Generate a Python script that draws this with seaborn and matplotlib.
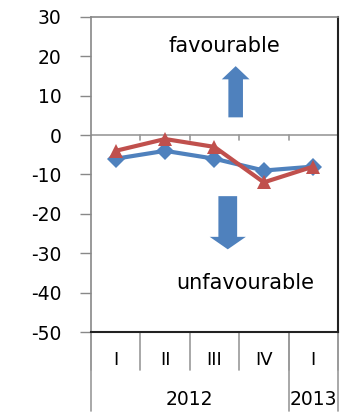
import matplotlib
matplotlib.use("Agg")
import matplotlib.pyplot as plt
import seaborn as sns
import pandas as pd
import numpy as np

quarters = ["I", "II", "III", "IV", "I"]
years = ["2012", "2013"]
year_spans = [(0, 4), (4, 5)]
series_a = [-6, -4, -6, -9, -8]
series_b = [-4, -1, -3, -12, -8]

BLUE = "#4F81BD"
RED = "#C0504D"

sns.set_style("white")
plt.rcParams["font.family"] = ["DejaVu Sans"]
plt.rcParams["text.color"] = "black"
plt.rcParams["ytick.labelcolor"] = "black"

pos = np.arange(len(quarters))
df = pd.DataFrame({
    "pos": np.concatenate([pos, pos]),
    "value": series_a + series_b,
    "series": ["a"] * len(pos) + ["b"] * len(pos),
})

fig = plt.figure(figsize=(3.42, 4.12), dpi=100)
ax = fig.add_axes([0.266, 0.194, 0.722, 0.765])

sns.lineplot(data=df, x="pos", y="value", hue="series", style="series",
             palette={"a": BLUE, "b": RED},
             markers={"a": "D", "b": "^"}, dashes=False,
             markersize=9.5, linewidth=3.0, markeredgewidth=0,
             legend=False, ax=ax)

ax.set_xlim(-0.5, len(quarters) - 0.5)
ax.set_ylim(-50, 30)
ax.set_yticks(range(-50, 31, 10))
ax.set_yticklabels([str(v) for v in range(-50, 31, 10)], fontsize=13.5, color="black")
ax.tick_params(axis="y", length=8, width=1, color="#888888", pad=13, direction="out", left=True)
ax.set_xticks([])
ax.set_xlabel("")
ax.set_ylabel("")

for side in ["left", "top"]:
    ax.spines[side].set_color("#888888")
    ax.spines[side].set_linewidth(1.2)
for side in ["right", "bottom"]:
    ax.spines[side].set_color("#222222")
    ax.spines[side].set_linewidth(1.5)

# zero line with category boundary ticks
ax.axhline(0, color="#999999", lw=1.2, zorder=1)
for b in np.arange(0.5, len(quarters) - 0.5, 1):
    ax.plot([b, b], [0, -1.2], color="#999999", lw=1.2, zorder=1)

# category axis below the plot
trans = ax.get_xaxis_transform()
for b in np.arange(-0.5, len(quarters) + 0.5, 1):
    ax.plot([b, b], [0, -0.12], transform=trans, color="#999999", lw=1.2, clip_on=False)
for i, q in enumerate(quarters):
    ax.text(i, -0.09, q, transform=trans, ha="center", va="center", fontsize=13)
for (s, e), y in zip(year_spans, years):
    ax.plot([s - 0.5, s - 0.5], [0, -0.25], transform=trans, color="#999999", lw=1.2, clip_on=False)
    ax.text((s + e - 1) / 2, -0.215, y, transform=trans, ha="center", va="center", fontsize=13.5)
ax.plot([4.5, 4.5], [0, -0.25], transform=trans, color="#999999", lw=1.2, clip_on=False)

# annotations
ax.text(2.2, 22.5, "favourable", ha="center", va="center", fontsize=15)
ax.text(2.62, -37.5, "unfavourable", ha="center", va="center", fontsize=15)
ax.annotate("", xy=(2.43, 17.5), xytext=(2.43, 4.5),
            arrowprops=dict(arrowstyle="simple,head_length=0.95,head_width=2.0,tail_width=1.05",
                            color=BLUE, lw=0, shrinkA=0, shrinkB=0))
ax.annotate("", xy=(2.27, -29), xytext=(2.27, -15.5),
            arrowprops=dict(arrowstyle="simple,head_length=0.9,head_width=2.6,tail_width=1.35",
                            color=BLUE, lw=0, shrinkA=0, shrinkB=0))

fig.savefig("out.png", dpi=100)
